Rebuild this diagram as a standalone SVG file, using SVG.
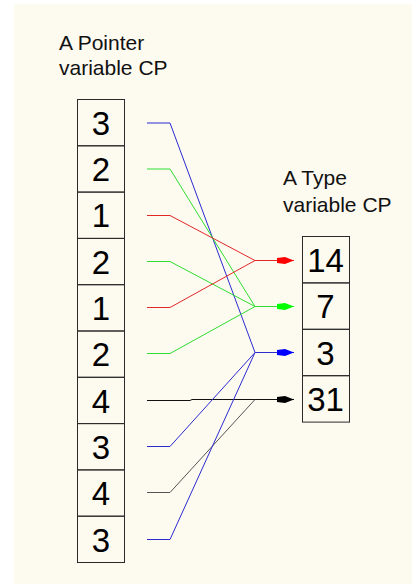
<svg xmlns="http://www.w3.org/2000/svg" width="412" height="587" viewBox="0 0 412 587">
<style>
.cell{fill:none;stroke:#2a2a2a;stroke-width:1}
.num{font-family:"Liberation Sans",Arial,sans-serif;font-size:33px;fill:#000;text-anchor:middle}
.lbl{font-family:"Liberation Sans",Arial,sans-serif;font-size:21px;fill:#111}
.c{fill:none;stroke-width:1}
.b{stroke:#2b2bd0}.r{stroke:#e02828}.g{stroke:#30dd30}.k{stroke:#111}.gy{stroke:#555}
</style>
<defs>
<marker id="ab" markerUnits="userSpaceOnUse" markerWidth="20" markerHeight="10" refX="17" refY="4" orient="auto"><path d="M0,1.5 L8,0.5 L17,4 L8,7.5 L0,6.5 Z" fill="#0000ff"/></marker>
<marker id="ar" markerUnits="userSpaceOnUse" markerWidth="20" markerHeight="10" refX="17" refY="4" orient="auto"><path d="M0,1.5 L8,0.5 L17,4 L8,7.5 L0,6.5 Z" fill="#ff0000"/></marker>
<marker id="ag" markerUnits="userSpaceOnUse" markerWidth="20" markerHeight="10" refX="17" refY="4" orient="auto"><path d="M0,1.5 L8,0.5 L17,4 L8,7.5 L0,6.5 Z" fill="#00ff00"/></marker>
<marker id="ak" markerUnits="userSpaceOnUse" markerWidth="20" markerHeight="10" refX="17" refY="4" orient="auto"><path d="M0,1.5 L8,0.5 L17,4 L8,7.5 L0,6.5 Z" fill="#000"/></marker>
</defs>
<rect x="0" y="0" width="412" height="587" fill="#ffffff"/>
<rect x="14" y="4" width="398" height="580" fill="#fdfaf0"/>
<g id="labels">
<text class="lbl" x="59" y="50">A Pointer</text>
<text class="lbl" x="59" y="75">variable CP</text>
<text class="lbl" x="283" y="185">A Type</text>
<text class="lbl" x="283" y="211.5">variable CP</text>
</g>
<g id="pointer-array">
<g id="p1"><rect class="cell" x="77.5" y="99.5" width="47" height="46.3"/><text class="num" x="101" y="134.8">3</text></g>
<g id="p2"><rect class="cell" x="77.5" y="145.8" width="47" height="46.3"/><text class="num" x="101" y="181.1">2</text></g>
<g id="p3"><rect class="cell" x="77.5" y="192.1" width="47" height="46.3"/><text class="num" x="101" y="227.4">1</text></g>
<g id="p4"><rect class="cell" x="77.5" y="238.4" width="47" height="46.3"/><text class="num" x="101" y="273.7">2</text></g>
<g id="p5"><rect class="cell" x="77.5" y="284.7" width="47" height="46.3"/><text class="num" x="101" y="320">1</text></g>
<g id="p6"><rect class="cell" x="77.5" y="331" width="47" height="46.3"/><text class="num" x="101" y="366.3">2</text></g>
<g id="p7"><rect class="cell" x="77.5" y="377.3" width="47" height="46.3"/><text class="num" x="101" y="412.6">4</text></g>
<g id="p8"><rect class="cell" x="77.5" y="423.6" width="47" height="46.3"/><text class="num" x="101" y="458.9">3</text></g>
<g id="p9"><rect class="cell" x="77.5" y="469.9" width="47" height="46.3"/><text class="num" x="101" y="505.2">4</text></g>
<g id="p10"><rect class="cell" x="77.5" y="516.2" width="47" height="46.3"/><text class="num" x="101" y="551.5">3</text></g>
</g>
<g id="type-array">
<g id="t1"><rect class="cell" x="302.5" y="236.5" width="47" height="46.4"/><text class="num" x="325.5" y="271.8">14</text></g>
<g id="t2"><rect class="cell" x="302.5" y="282.9" width="47" height="46.4"/><text class="num" x="325.5" y="318.2">7</text></g>
<g id="t3"><rect class="cell" x="302.5" y="329.3" width="47" height="46.4"/><text class="num" x="325.5" y="364.6">3</text></g>
<g id="t4"><rect class="cell" x="302.5" y="375.7" width="47" height="46.4"/><text class="num" x="325.5" y="411">31</text></g>
</g>
<g id="connectors">
<polyline class="c b" points="147,123 170,123 255,352.5"/>
<polyline class="c g" points="147,169 170,169 255,306.5"/>
<polyline class="c r" points="147,215.5 170,215.5 255,260.5"/>
<polyline class="c g" points="147,261.5 170,261.5 255,306.5"/>
<polyline class="c r" points="147,307.5 170,307.5 255,260.5"/>
<polyline class="c g" points="147,353.5 170,353.5 255,306.5"/>
<polyline class="c k" points="147,400.5 190,400.5 192,399.5 255,399.5"/>
<polyline class="c b" points="147,446.5 170,446.5 255,352.5"/>
<polyline class="c gy" points="147,492.5 170,492.5 255,399.5"/>
<polyline class="c b" points="147,539.5 170,539.5 255,352.5"/>
<line class="c r" x1="255" y1="260.5" x2="294" y2="260.5" marker-end="url(#ar)"/>
<line class="c g" x1="255" y1="306.5" x2="294" y2="306.5" marker-end="url(#ag)"/>
<line class="c b" x1="255" y1="352.5" x2="294" y2="352.5" marker-end="url(#ab)"/>
<line class="c k" x1="255" y1="399.5" x2="294" y2="399.5" marker-end="url(#ak)"/>
</g>
</svg>
